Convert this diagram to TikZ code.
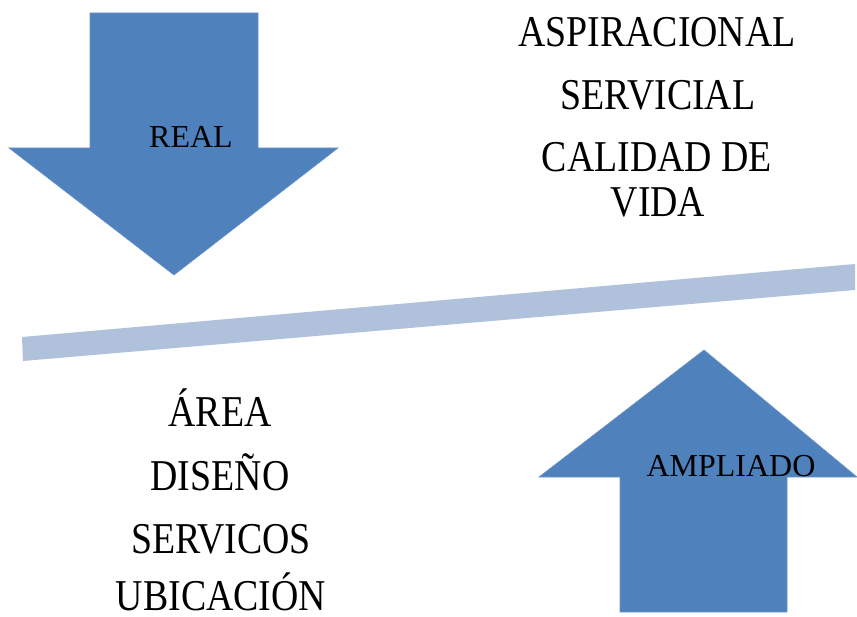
\documentclass[tikz,border=0pt]{standalone}
\usepackage{fontspec}
\setmainfont{Liberation Serif}
\newfontfamily\cambria[FakeStretch=0.86]{Liberation Serif}
\definecolor{arrowblue}{HTML}{4F81BD}
\definecolor{barblue}{HTML}{B0C1DC}
\begin{document}
\begin{tikzpicture}[x=1pt,y=-1pt,
  bigarrow/.style={fill=arrowblue,draw=arrowblue!85!white,line width=0.6pt},
  bar/.style={fill=barblue,draw=none},
  arrowlabel/.style={inner sep=0pt,anchor=base,font=\fontsize{32}{36}\selectfont},
  wordlabel/.style={inner sep=0pt,anchor=base,font=\cambria\fontsize{44}{50}\selectfont}]
\useasboundingbox (0,0) rectangle (857,617);
% down arrow
\fill[bigarrow] (90,13) -- (258,13) -- (258,148) -- (338,148) -- (174,275) -- (9,148) -- (90,148) -- cycle;
\node[arrowlabel] (real) at (191,148) {REAL};
% up arrow
\fill[bigarrow] (620,612) -- (787,612) -- (787,477) -- (857,477) -- (704,350) -- (539,477) -- (620,477) -- cycle;
\node[arrowlabel] (ampliado) at (731,476) {AMPLIADO};
% bar
\fill[bar] (22,337) -- (855,264) -- (855,290) -- (23,361) -- cycle;
% upper right words
\node[wordlabel] (aspir) at (657,47) {ASPIRACIONAL};
\node[wordlabel] (servicial) at (658,110) {SERVICIAL};
\node[wordlabel] (calidad) at (657,172) {CALIDAD DE};
\node[wordlabel] (vida) at (658,217) {VIDA};
% lower left words
\node[wordlabel] (area) at (220,427) {ÁREA};
\node[wordlabel] (diseno) at (220,490) {DISEÑO};
\node[wordlabel] (servicos) at (221,553) {SERVICOS};
\node[wordlabel] (ubicacion) at (221,610) {UBICACIÓN};
\end{tikzpicture}
\end{document}
